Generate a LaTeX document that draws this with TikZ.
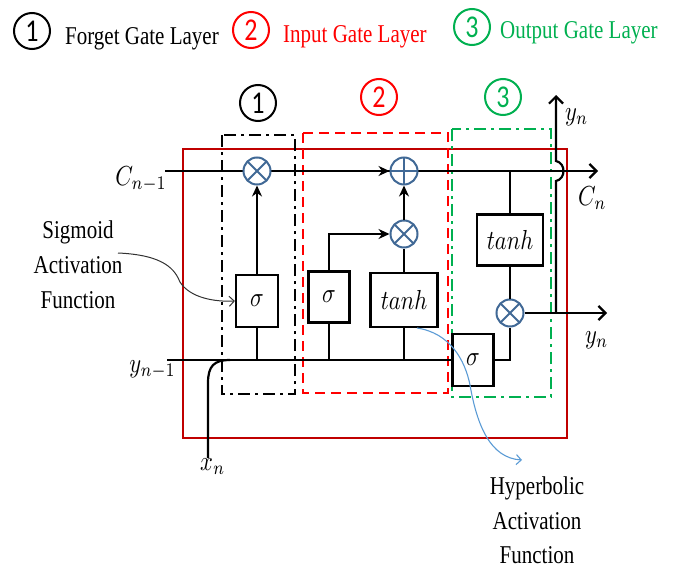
\documentclass[tikz,border=0pt]{standalone}
\usepackage{fontspec}
\setmainfont{Liberation Serif}
\newfontfamily\numfont{Carlito}
\usepackage{graphicx}
\usetikzlibrary{arrows.meta,calc}
\definecolor{cred}{RGB}{192,0,0}
\definecolor{bred}{RGB}{255,0,0}
\definecolor{cgreen}{RGB}{0,176,80}
\definecolor{cblue}{RGB}{65,105,150}
\definecolor{lblue}{RGB}{91,155,213}
\definecolor{agray}{RGB}{50,50,50}
\newcommand\vs[1]{\scalebox{1}[1.22]{#1}}
\newcommand\vm[1]{\scalebox{2.25}[2.75]{$#1$}}
\newcommand\txtfont{\fontsize{21}{28}\selectfont}
\begin{document}
\begin{tikzpicture}[x=1pt,y=-1pt,
  wire/.style={line width=2.2pt, black},
  op/.style={circle, draw=cblue, line width=2pt, fill=white, minimum size=27pt, inner sep=0pt},
  timesop/.style={op, path picture={\draw[cblue,line width=2pt]
      (path picture bounding box.north west) -- (path picture bounding box.south east)
      (path picture bounding box.north east) -- (path picture bounding box.south west);}},
  plusop/.style={op, path picture={\draw[cblue,line width=2pt]
      (path picture bounding box.north) -- (path picture bounding box.south)
      (path picture bounding box.east) -- (path picture bounding box.west);}},
  gbox/.style={draw, line width=2.2pt, fill=white, inner sep=0pt},
  num/.style={circle, draw, line width=2pt, minimum size=36pt, inner sep=0pt, font=\numfont\fontsize{26}{26}\selectfont},
  legtext/.style={anchor=base west, inner sep=0pt, font=\txtfont},
  mlabel/.style={inner sep=0pt},
  dashdot/.style={line width=2.2pt, dash pattern=on 12pt off 5pt on 3pt off 5pt},
  redbox/.style={line width=2.2pt, bred, dash pattern=on 10pt off 6pt},
  intarrow/.style={-{Stealth[length=11pt,width=10pt]}},
  endarrow/.style={-{Straight Barb[length=7pt,width=14pt]}},
  note/.style={font=\txtfont, align=center, inner sep=0pt}
]
\useasboundingbox (0,0) rectangle (678,570);

% ---------- legend ----------
\node[num] (l1) at (32,31) {\vs{1}};
\node[legtext] (t1) at (65,45) {\vs{Forget Gate Layer}};
\node[num, draw=bred, text=bred] (l2) at (251,30) {\vs{2}};
\node[legtext, text=bred] (t2) at (283,42) {\vs{Input Gate Layer}};
\node[num, draw=cgreen, text=cgreen] (l3) at (472,27) {\vs{3}};
\node[legtext, text=cgreen] (t3) at (500,38) {\vs{Output Gate Layer}};

% ---------- gate labels ----------
\node[num] (g1) at (258,103) {\vs{1}};
\node[num, draw=bred, text=bred] (g2) at (379,97) {\vs{2}};
\node[num, draw=cgreen, text=cgreen] (g3) at (503,97) {\vs{3}};

% ---------- frames ----------
\draw[cred, line width=2.2pt] (183,149) rectangle (567,438);
\draw[dashdot, black] (222,135) rectangle (295,394);
\draw[redbox] (303,133) rectangle (448,393);
\draw[dashdot, cgreen] (452,129) rectangle (551,397);

% ---------- coordinates ----------
\coordinate (cin) at (165,171);
\coordinate (cout) at (598,171);
\coordinate (yin) at (167,360);
\coordinate (xnb) at (208,458);
\coordinate (xnk) at (208,383);
\coordinate (xnj) at (230,360);
\coordinate (ysplit) at (556,313);
\coordinate (hopb) at (556,181);
\coordinate (hopt) at (556,161);
\coordinate (ynt) at (556,95);
\coordinate (yout) at (607,313);
\coordinate (ctap) at (510,171);
\coordinate (sstart) at (118,253);
\coordinate (hstart) at (417,328);
\coordinate (hend) at (522,460);

% ---------- cell state line ----------
\draw[wire, endarrow] (cin) -- (cout);

% ---------- gate boxes and operators ----------
\node[gbox, minimum width=42pt, minimum height=52pt] (sig1) at (257,301) {\vm{\sigma}};
\node[gbox, minimum width=41pt, minimum height=51pt] (sig2) at (329,297) {\vm{\sigma}};
\node[gbox, minimum width=67pt, minimum height=54pt] (tanh2) at (404,300) {\vm{tanh}};
\node[gbox, minimum width=66pt, minimum height=51pt] (tanh3) at (510,240) {\vm{tanh}};

% hidden input line
\draw[wire] (yin) -- (453,360);
\draw[wire] (xnb) -- (xnk) .. controls (208,366) and (214,360) .. (xnj);
\draw[wire] (sig1.south) -- (sig1.south |- yin);
\draw[wire] (sig2.south) -- (sig2.south |- yin);
\draw[wire] (tanh2.south) -- (tanh2.south |- yin);

\node[gbox, minimum width=41pt, minimum height=52pt] (sig3) at (473,360) {\vm{\sigma}};

\node[timesop] (m1) at (257,171) {};
\node[plusop] (p2) at (404,171) {};
\node[timesop] (m2) at (404,234) {};
\node[timesop] (m3) at (510,313) {};

\draw[wire, intarrow] (sig1.north) -- (m1.south);
\draw[wire, intarrow] (m1.east) -- (p2.west);
\draw[wire, intarrow] (sig2.north) |- (m2.west);
\draw[wire, intarrow] (m2.north) -- (p2.south);
\draw[wire] (tanh2.north) -- (m2.south);
\draw[wire] (ctap) -- (tanh3.north);
\draw[wire] (tanh3.south) -- (m3.north);
\draw[wire] (sig3.east) -| (m3.south);
\draw[wire, endarrow] (m3.east) -- (yout);
\draw[wire, endarrow] (ysplit) -- (hopb) .. controls (566,179) and (566,163) .. (hopt) -- (ynt);

% ---------- math labels ----------
\node[mlabel, anchor=base east] (lc1) at (167,185) {\vm{C_{n-1}}};
\node[mlabel, anchor=base west] (lc2) at (578,205) {\vm{C_{n}}};
\node[mlabel, anchor=base east] (ly1) at (176,372) {\vm{y_{n-1}}};
\node[mlabel, anchor=base west] (lyt) at (565,120) {\vm{y_{n}}};
\node[mlabel, anchor=base west] (lyr) at (585,343) {\vm{y_{n}}};
\node[mlabel, anchor=base west] (lx) at (200,470) {\vm{x_{n}}};

% ---------- annotations ----------
\node[note, anchor=base] (sg1) at (78,238) {\vs{Sigmoid}};
\node[note, anchor=base] (sg2) at (78,273) {\vs{Activation}};
\node[note, anchor=base] (sg3) at (78,308) {\vs{Function}};
\draw[agray, line width=1pt, -{Straight Barb[length=5pt,width=10pt]}]
  (sstart) .. controls (165,255) and (175,270) .. (180,282)
  .. controls (190,298) and (215,302) .. (sig1.west);

\node[note, anchor=base] (hy1) at (537,494) {\vs{Hyperbolic}};
\node[note, anchor=base] (hy2) at (537,529) {\vs{Activation}};
\node[note, anchor=base] (hy3) at (537,563) {\vs{Function}};
\draw[lblue, line width=1.1pt, -{Straight Barb[length=5pt,width=10pt]}]
  (hstart) .. controls (450,333) and (465,360) .. (470,385)
  .. controls (477,425) and (490,458) .. (hend);
\end{tikzpicture}
\end{document}
